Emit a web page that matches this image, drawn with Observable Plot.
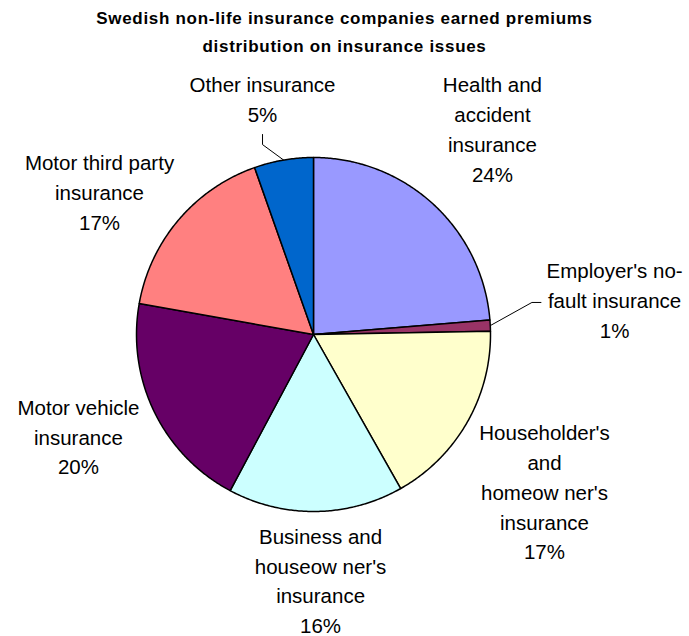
<!DOCTYPE html>
<html>
<head>
<meta charset="utf-8">
<script src="https://cdn.jsdelivr.net/npm/d3@7"></script>
<script src="https://cdn.jsdelivr.net/npm/@observablehq/plot@0.6"></script>
<style>
  html, body { margin: 0; padding: 0; background: #fff; }
  #chart { width: 689px; height: 636px; position: relative; overflow: hidden; }
  #title {
    font-family: "Liberation Sans", Arial, sans-serif;
    font-weight: bold; font-size: 17px; letter-spacing: 0.7px;
    line-height: 28px; text-align: center; color: #000;
    height: 56px; padding-top: 5px; margin-bottom: 1px; width: 689px;
  }
  svg { display: block; }
</style>
</head>
<body>
<div id="chart">
  <div id="title">Swedish non-life insurance companies earned premiums<br>distribution on insurance issues</div>
</div>
<script>
// ---- data ----
const categories = [
  "Health and accident insurance",
  "Employer's no-fault insurance",
  "Householder's and homeowner's insurance",
  "Business and houseowner's insurance",
  "Motor vehicle insurance",
  "Motor third party insurance",
  "Other insurance"
];
const shares = [23.7, 1.0, 17.1, 16.0, 20.0, 16.8, 5.4];
const labelLines = [
  ["Health and", "accident", "insurance"],
  ["Employer's no-", "fault insurance"],
  ["Householder's", "and", "homeow ner's", "insurance"],
  ["Business and", "houseow ner's", "insurance"],
  ["Motor vehicle", "insurance"],
  ["Motor third party", "insurance"],
  ["Other insurance"]
];
const colors = ["#9999FF", "#993366", "#FFFFCC", "#CCFFFF", "#660066", "#FF8080", "#0066CC"];

// ---- layout (in pie-radius units, relative to pie centre) ----
const labelPos = [
  [1.011, 1.170], [1.701, 0.203], [1.305, -0.881], [0.040, -1.381],
  [-1.328, -0.568], [-1.209, 0.814], [-0.288, 1.339]
];
// leader elbows/ends for small slices (index -> [elbow, end])
const leaders = {
  1: [[1.234, 0.181], [1.285, 0.181]],
  6: [[-0.288, 1.073], [-0.288, 1.13]]
};

const W = 689, H = 574;
const cx = 313, cy = 272, R = 177;

const total = d3.sum(shares);
let acc = 0;
const slices = shares.map((v, i) => {
  const a0 = acc / total * 2 * Math.PI;
  acc += v;
  const a1 = acc / total * 2 * Math.PI;
  return {i, name: categories[i], value: v, a0, a1, color: colors[i]};
});

function polygon(s) {
  const pts = [{x: 0, y: 0}];
  const n = Math.max(2, Math.ceil((s.a1 - s.a0) / (Math.PI / 360)));
  for (let k = 0; k <= n; k++) {
    const a = s.a0 + (s.a1 - s.a0) * k / n;
    pts.push({x: Math.sin(a), y: Math.cos(a)});
  }
  pts.push({x: 0, y: 0});
  return pts;
}

const labels = slices.map(s => ({
  x: labelPos[s.i][0], y: labelPos[s.i][1],
  text: [...labelLines[s.i], Math.round(s.value / total * 100) + "%"].join("\n")
}));

const leaderLines = [];
for (const k of Object.keys(leaders)) {
  const s = slices[+k];
  const m = (s.a0 + s.a1) / 2;
  leaderLines.push([{x: Math.sin(m), y: Math.cos(m)}, {x: leaders[k][0][0], y: leaders[k][0][1]}, {x: leaders[k][1][0], y: leaders[k][1][1]}]);
}

const marks = [];
for (const ll of leaderLines) {
  marks.push(Plot.line(ll, {x: "x", y: "y", stroke: "#000", strokeWidth: 1}));
}
for (const s of slices) {
  marks.push(Plot.line(polygon(s), {x: "x", y: "y", fill: s.color, stroke: "#000", strokeWidth: 1.5, strokeLinejoin: "round"}));
}
marks.push(Plot.text(labels, {
  x: "x", y: "y", text: "text", textAnchor: "middle", lineAnchor: "middle",
  lineHeight: 1.45, fontSize: 20.5, fill: "#000",
  fontFamily: "Liberation Sans, Arial, sans-serif"
}));

const chart = Plot.plot({
  width: W, height: H,
  margin: 0,
  x: {domain: [-1, 1], range: [cx - R, cx + R], axis: null},
  y: {domain: [-1, 1], range: [cy + R, cy - R], axis: null},
  style: {fontFamily: "Liberation Sans, Arial, sans-serif", background: "#fff", overflow: "visible"},
  marks
});
document.getElementById("chart").appendChild(chart);
</script>
</body>
</html>
